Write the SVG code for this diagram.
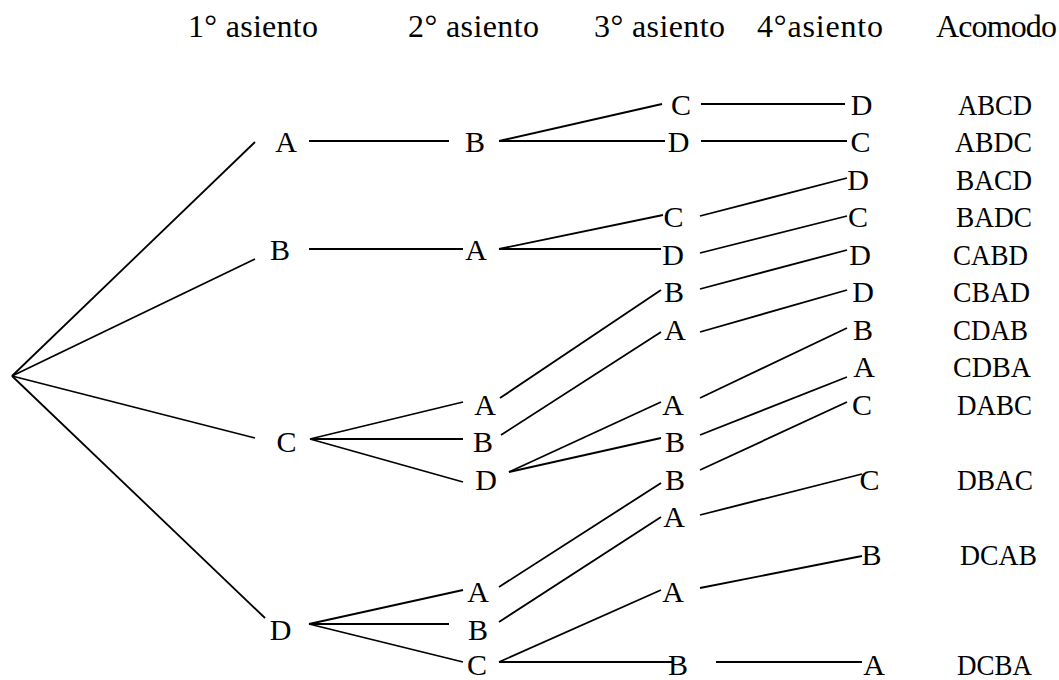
<svg xmlns="http://www.w3.org/2000/svg" width="1059" height="680" viewBox="0 0 1059 680">
  <style>
    text { font-family: "Liberation Serif", "Times New Roman", serif; font-size: 30px; fill: #000; }
    .h { font-size: 32px; }
    .n { text-anchor: middle; }
    .w { text-anchor: start; }
    #connectors line { stroke: #000; stroke-width: 1.8; stroke-linecap: butt; }
  </style>
  <rect width="1059" height="680" fill="#fff"/>

  <!-- column headings -->
  <g id="headers">
    <text class="h" x="188" y="37" textLength="130" lengthAdjust="spacing">1° asiento</text>
    <text class="h" x="408" y="37" textLength="131" lengthAdjust="spacing">2° asiento</text>
    <text class="h" x="594" y="37" textLength="131" lengthAdjust="spacing">3° asiento</text>
    <text class="h" x="757" y="37" textLength="126" lengthAdjust="spacing">4°asiento</text>
    <text class="h" x="936" y="37" textLength="121" lengthAdjust="spacing">Acomodo</text>
  </g>

  <!-- branches of the tree -->
  <g id="connectors">
    <!-- root to first seat -->
    <line x1="12" y1="376" x2="255" y2="142"/>
    <line x1="12" y1="376" x2="255" y2="259"/>
    <line x1="12" y1="376" x2="255" y2="438"/>
    <line x1="12" y1="376" x2="265" y2="618"/>
    <!-- first seat to second seat -->
    <line x1="309" y1="141" x2="449" y2="141"/>
    <line x1="309" y1="249" x2="463" y2="249"/>
    <line x1="310" y1="439" x2="463" y2="402"/>
    <line x1="310" y1="439" x2="463" y2="439"/>
    <line x1="310" y1="439" x2="463" y2="482"/>
    <line x1="309" y1="624" x2="463" y2="590"/>
    <line x1="309" y1="624" x2="449" y2="624"/>
    <line x1="309" y1="624" x2="463" y2="662"/>
    <!-- second seat to third seat -->
    <line x1="499" y1="141" x2="662" y2="104"/>
    <line x1="499" y1="141" x2="665" y2="141"/>
    <line x1="499" y1="249" x2="663" y2="215"/>
    <line x1="499" y1="249" x2="661" y2="249"/>
    <line x1="500" y1="398" x2="661" y2="290"/>
    <line x1="501" y1="435" x2="661" y2="332"/>
    <line x1="509" y1="472" x2="661" y2="402"/>
    <line x1="509" y1="472" x2="661" y2="438"/>
    <line x1="499" y1="587" x2="661" y2="483"/>
    <line x1="499" y1="622" x2="661" y2="517"/>
    <line x1="499" y1="662" x2="661" y2="590"/>
    <line x1="499" y1="662" x2="672" y2="662"/>
    <!-- third seat to fourth seat -->
    <line x1="701" y1="104" x2="845" y2="104"/>
    <line x1="701" y1="141" x2="847" y2="141"/>
    <line x1="700" y1="216" x2="847" y2="178"/>
    <line x1="700" y1="253" x2="847" y2="216"/>
    <line x1="700" y1="289" x2="847" y2="250"/>
    <line x1="700" y1="332" x2="847" y2="290"/>
    <line x1="700" y1="398" x2="847" y2="328"/>
    <line x1="700" y1="435" x2="847" y2="377"/>
    <line x1="700" y1="470" x2="847" y2="402"/>
    <line x1="700" y1="515" x2="862" y2="474"/>
    <line x1="700" y1="588" x2="862" y2="556"/>
    <line x1="716" y1="662" x2="862" y2="662"/>
  </g>

  <!-- first seat -->
  <g id="s1-A"><text class="n" x="286" y="152">A</text></g>
  <g id="s1-B"><text class="n" x="280" y="259.5">B</text></g>
  <g id="s1-C"><text class="n" x="286.5" y="452">C</text></g>
  <g id="s1-D"><text class="n" x="280.5" y="639.5">D</text></g>

  <!-- second seat -->
  <g id="s2-AB"><text class="n" x="475" y="152">B</text></g>
  <g id="s2-BA"><text class="n" x="476" y="259.5">A</text></g>
  <g id="s2-CA"><text class="n" x="485" y="414.5">A</text></g>
  <g id="s2-CB"><text class="n" x="483" y="452">B</text></g>
  <g id="s2-CD"><text class="n" x="486" y="489.5">D</text></g>
  <g id="s2-DA"><text class="n" x="478" y="602">A</text></g>
  <g id="s2-DB"><text class="n" x="478" y="639.5">B</text></g>
  <g id="s2-DC"><text class="n" x="477" y="675">C</text></g>

  <!-- third seat -->
  <g id="s3-ABC"><text class="n" x="681" y="114.5">C</text></g>
  <g id="s3-ABD"><text class="n" x="678.5" y="152">D</text></g>
  <g id="s3-BAC"><text class="n" x="673.5" y="227">C</text></g>
  <g id="s3-BAD"><text class="n" x="673" y="264.5">D</text></g>
  <g id="s3-CAB"><text class="n" x="674" y="302">B</text></g>
  <g id="s3-CBA"><text class="n" x="675" y="339.5">A</text></g>
  <g id="s3-CDA"><text class="n" x="673" y="414.5">A</text></g>
  <g id="s3-CDB"><text class="n" x="675" y="452">B</text></g>
  <g id="s3-DAB"><text class="n" x="675" y="489.5">B</text></g>
  <g id="s3-DBA"><text class="n" x="674" y="527">A</text></g>
  <g id="s3-DCA"><text class="n" x="673" y="602">A</text></g>
  <g id="s3-DCB"><text class="n" x="678" y="675">B</text></g>

  <!-- fourth seat -->
  <g id="s4-ABCD"><text class="n" x="861.5" y="114.5">D</text></g>
  <g id="s4-ABDC"><text class="n" x="860.5" y="152">C</text></g>
  <g id="s4-BACD"><text class="n" x="858" y="189.5">D</text></g>
  <g id="s4-BADC"><text class="n" x="858" y="227">C</text></g>
  <g id="s4-CABD"><text class="n" x="860" y="264.5">D</text></g>
  <g id="s4-CBAD"><text class="n" x="863" y="302">D</text></g>
  <g id="s4-CDAB"><text class="n" x="863" y="339.5">B</text></g>
  <g id="s4-CDBA"><text class="n" x="864" y="377">A</text></g>
  <g id="s4-DABC"><text class="n" x="862" y="414.5">C</text></g>
  <g id="s4-DBAC"><text class="n" x="869.5" y="489.5">C</text></g>
  <g id="s4-DCAB"><text class="n" x="871.5" y="564.5">B</text></g>
  <g id="s4-DCBA"><text class="n" x="874" y="675">A</text></g>

  <!-- resulting arrangements -->
  <g id="arrangements">
    <text class="w" x="958" y="114.5" textLength="74" lengthAdjust="spacingAndGlyphs">ABCD</text>
    <text class="w" x="955" y="152" textLength="77" lengthAdjust="spacingAndGlyphs">ABDC</text>
    <text class="w" x="956" y="189.5" textLength="76" lengthAdjust="spacingAndGlyphs">BACD</text>
    <text class="w" x="956" y="227" textLength="76" lengthAdjust="spacingAndGlyphs">BADC</text>
    <text class="w" x="953" y="264.5" textLength="75" lengthAdjust="spacingAndGlyphs">CABD</text>
    <text class="w" x="953" y="302" textLength="77" lengthAdjust="spacingAndGlyphs">CBAD</text>
    <text class="w" x="953" y="339.5" textLength="75" lengthAdjust="spacingAndGlyphs">CDAB</text>
    <text class="w" x="953" y="377" textLength="78" lengthAdjust="spacingAndGlyphs">CDBA</text>
    <text class="w" x="957" y="414.5" textLength="75" lengthAdjust="spacingAndGlyphs">DABC</text>
    <text class="w" x="957" y="489.5" textLength="76" lengthAdjust="spacingAndGlyphs">DBAC</text>
    <text class="w" x="960" y="564.5" textLength="77" lengthAdjust="spacingAndGlyphs">DCAB</text>
    <text class="w" x="957" y="675" textLength="75" lengthAdjust="spacingAndGlyphs">DCBA</text>
  </g>
</svg>
